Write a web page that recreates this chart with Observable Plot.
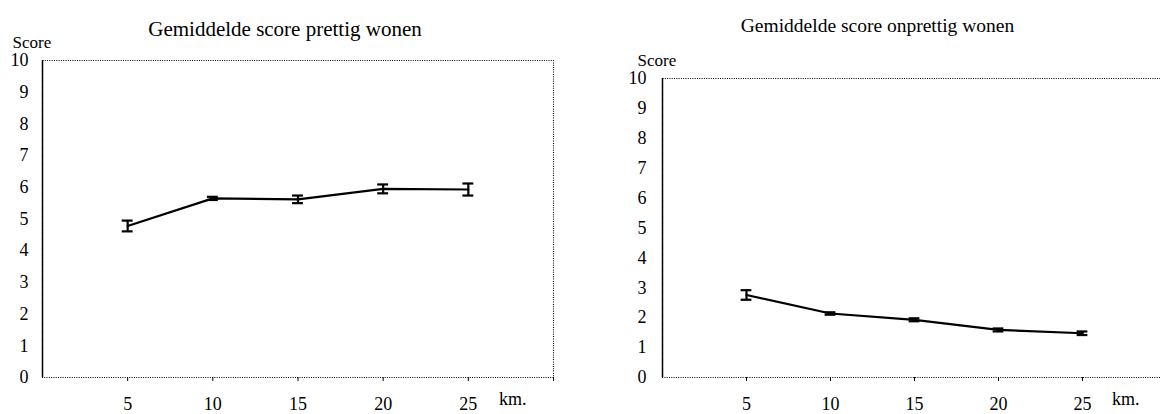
<!DOCTYPE html>
<html>
<head>
<meta charset="utf-8">
<script src="https://cdn.jsdelivr.net/npm/d3@7"></script>
<script src="https://cdn.jsdelivr.net/npm/@observablehq/plot@0.6"></script>
<style>
  html, body { margin: 0; padding: 0; background: #fff; }
  #wrap { position: relative; width: 1160px; height: 414px; overflow: hidden; }
  .panel { position: absolute; top: 0; }
  #wrap svg, #wrap svg text { font-family: "Liberation Serif", "Times New Roman", serif !important; }
</style>
</head>
<body>
<div id="wrap"></div>
<script>
// ---- data ----
const km = [5, 10, 15, 20, 25];
const prettig = [4.78, 5.65, 5.62, 5.95, 5.93];
const prettigErr = [0.17, 0.05, 0.12, 0.14, 0.19];
const onprettig = [2.76, 2.14, 1.93, 1.59, 1.48];
const onprettigErr = [0.16, 0.04, 0.05, 0.05, 0.06];
const xTicks = [5, 10, 15, 20, 25];
const yTicks = [0, 1, 2, 3, 4, 5, 6, 7, 8, 9, 10];
const titles = ["Gemiddelde score prettig wonen", "Gemiddelde score onprettig wonen"];
const yLabel = "Score";
const xLabel = "km.";

const FONT = "'Liberation Serif', 'Times New Roman', serif";

function panel({values, errs, title, left, width, marginLeft, marginRight, marginTop, marginBottom, titleDx, titleDy, titleSize, scoreDx, scoreDy, yPad}) {
  const rows = km.map((k, i) => ({km: k, v: values[i], lo: values[i] - errs[i], hi: values[i] + errs[i]}));
  const cap = 0.32;
  const p = Plot.plot({
    width, height: 414,
    marginLeft, marginRight, marginTop, marginBottom,
    style: {fontFamily: FONT, fontSize: "18px", color: "#000", background: "transparent", overflow: "visible"},
    x: {domain: [0, 30]},
    y: {domain: [0, 10]},
    marks: [
      Plot.frame({stroke: "#000", strokeWidth: 1.1, strokeDasharray: "1,1.3"}),
      Plot.ruleX([0], {stroke: "#000", strokeWidth: 1.5}),
      Plot.axisY({ticks: yTicks, tickSize: 0, tickPadding: yPad, label: null, fontSize: 18}),
      Plot.axisX({ticks: xTicks, tickSize: 4, tickPadding: 16, label: null, fontSize: 18}),
      Plot.axisX({ticks: [30], tickSize: 4, tickFormat: () => "", label: null}),
      Plot.line(rows, {x: "km", y: "v", stroke: "#000", strokeWidth: 2.2}),
      Plot.ruleX(rows, {x: "km", y1: "lo", y2: "hi", stroke: "#000", strokeWidth: 2.2}),
      Plot.ruleY(rows, {y: "lo", x1: d => d.km - cap, x2: d => d.km + cap, stroke: "#000", strokeWidth: 2.2}),
      Plot.ruleY(rows, {y: "hi", x1: d => d.km - cap, x2: d => d.km + cap, stroke: "#000", strokeWidth: 2.2}),
      Plot.text([title], {frameAnchor: "top", dx: titleDx, dy: titleDy, text: d => d, fontSize: titleSize, fill: "#000"}),
      Plot.text([yLabel], {frameAnchor: "top-left", dx: scoreDx, dy: scoreDy, text: d => d, textAnchor: "start", fontSize: 17, fill: "#000"}),
      Plot.text([xLabel], {frameAnchor: "bottom-right", dx: -27, dy: 27, text: d => d, fontSize: 18, fill: "#000"})
    ]
  });
  p.classList.add("panel");
  p.style.left = left + "px";
  return p;
}

const wrap = document.getElementById("wrap");
wrap.appendChild(panel({
  values: prettig, errs: prettigErr, title: titles[0],
  left: 0, width: 580, marginLeft: 42, marginRight: 27, marginTop: 60, marginBottom: 37,
  titleDx: -13, titleDy: -39, titleSize: 21, scoreDx: -30, scoreDy: -25, yPad: 14
}));
wrap.appendChild(panel({
  values: onprettig, errs: onprettigErr, title: titles[1],
  left: 580, width: 586, marginLeft: 82, marginRight: 0, marginTop: 78, marginBottom: 37,
  titleDx: -37, titleDy: -60, titleSize: 19.5, scoreDx: -25, scoreDy: -25, yPad: 16
}));
</script>
</body>
</html>
